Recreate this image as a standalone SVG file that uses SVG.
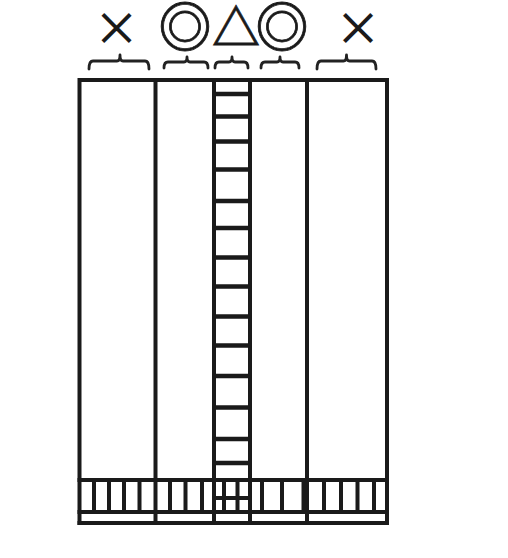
<svg xmlns="http://www.w3.org/2000/svg" width="508" height="558" viewBox="0 0 508 558">
<style>
.sym{font-family:"Noto Sans CJK JP","DejaVu Sans",sans-serif;font-weight:700;fill:#1a1a1a;stroke:#1a1a1a;stroke-width:0.8;text-anchor:middle}
.x{font-weight:500;stroke-width:0}
.br{fill:none;stroke:#222;stroke-width:2.8;stroke-linecap:round;stroke-linejoin:round}
.ln{stroke:#1a1a1a;stroke-width:4;fill:none}
.rg{stroke:#1a1a1a;stroke-width:4.5}
</style>
<rect width="508" height="558" fill="#fff"/>
<g id="symbols">
<text class="sym x" x="116.5" y="44.5" font-size="46">×</text>
<text class="sym" x="185" y="46.5" font-size="53">◎</text>
<text class="sym" x="236" y="45" font-size="48">△</text>
<text class="sym" x="282" y="46.5" font-size="53">◎</text>
<text class="sym x" x="358" y="44.5" font-size="46">×</text>
</g>
<g id="brackets">
<path class="br" d="M89,69 Q89,61 93,61 H117 Q120,61 120,55 Q120,61 123,61 H145 Q149,61 149,69"/>
<path class="br" d="M164,68 Q164,62 168,62 H184 Q187,62 187,57 Q187,62 190,62 H204 Q208,62 208,68"/>
<path class="br" d="M215,68 Q215,62 219,62 H229 Q232,62 232,57 Q232,62 235,62 H244 Q248,62 248,68"/>
<path class="br" d="M261,68 Q261,62 265,62 H277 Q280,62 280,57 Q280,62 283,62 H295 Q299,62 299,68"/>
<path class="br" d="M317,69 Q317,61 321,61 H343.5 Q346.5,61 346.5,55 Q346.5,61 349.5,61 H372 Q376,61 376,69"/>
</g>
<g id="frame">
<path class="ln" d="M77.5,80 H389 M79.5,78 V525 M155.5,78 V525 M214,78 V525 M250,78 V525 M307,78 V525 M387,78 V525"/>
<path class="ln" d="M77.5,480 H389" stroke-width="4.5"/>
<path class="ln" d="M77.5,512 H389 M77.5,523 H389"/>
</g>
<g id="ladder">
<path class="rg" d="M214,94 H250 M214,116.5 H250 M214,141.5 H250 M214,169.5 H250 M214,201 H250 M214,228 H250 M214,257.5 H250 M214,286.5 H250 M214,316.5 H250 M214,345.5 H250 M214,376 H250 M214,407.5 H250 M214,439 H250 M214,463 H250"/>
</g>
<g id="base">
<path class="ln" d="M94,480 V512 M109,480 V512 M124,480 V512 M139.5,480 V512 M170,480 V512 M185.5,480 V512 M202,480 V512 M224,480 V512 M237.5,480 V512 M262,480 V512 M282,480 V512 M324,480 V512 M341,480 V512 M357.5,480 V512 M374,480 V512"/>
<path class="ln" d="M303.5,480 V512" stroke-width="2.5"/>
<path class="ln" d="M214,498 H250" stroke-width="4.5"/>
</g>
</svg>
